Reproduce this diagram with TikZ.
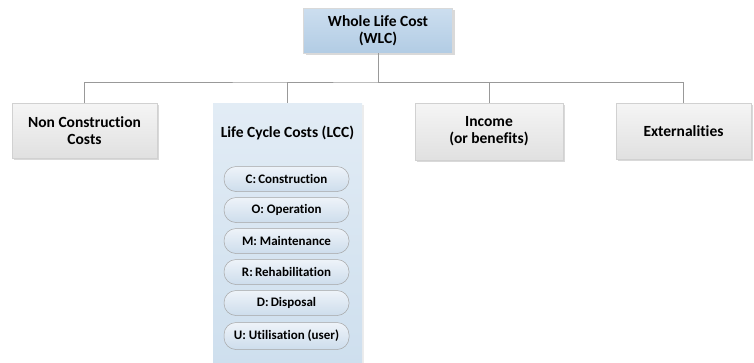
\documentclass[tikz,border=0pt]{standalone}
\usepackage{fontspec}
\setmainfont[Ligatures={NoCommon}]{Carlito}
\usetikzlibrary{shadows}
\begin{document}
\begin{tikzpicture}[x=1pt,y=-1pt,
  link/.style={draw=black!40, line width=0.7pt},
  boxfont/.style={font=\fontsize{15.5}{17}\selectfont\bfseries},
  graybox/.style={draw=black!18, line width=0.5pt, top color=black!4, bottom color=black!12,
     drop shadow={shadow xshift=2pt, shadow yshift=-2pt, fill=black!25, opacity=0.6},
     align=center, boxfont, inner sep=0pt},
  bluebox/.style={draw=black!15, line width=0.5pt,
     top color={rgb,255:red,204;green,222;blue,239}, bottom color={rgb,255:red,178;green,204;blue,228},
     drop shadow={shadow xshift=2pt, shadow yshift=-2pt, fill=black!25, opacity=0.6},
     align=center, boxfont, inner sep=0pt},
  lccbox/.style={draw=none, top color={rgb,255:red,226;green,236;blue,245}, bottom color={rgb,255:red,206;green,223;blue,238},
     drop shadow={shadow xshift=1.5pt, shadow yshift=-1.5pt, fill=black!15, opacity=0.5}, inner sep=0pt},
  pill/.style={draw=black!35, line width=0.5pt, rounded corners=12pt,
     top color={rgb,255:red,238;green,243;blue,249}, bottom color={rgb,255:red,205;green,221;blue,236},
     font=\fontsize{13}{15}\selectfont\bfseries, inner sep=0pt, minimum width=125pt, minimum height=25pt}
]
\useasboundingbox (0,0) rectangle (754,362);

% top node
\node[bluebox, minimum width=149pt, minimum height=45pt] (wlc) at (378,30.5) {Whole Life Cost\\(WLC)};

% second level
\node[graybox, minimum width=145pt, minimum height=55pt] (ncc) at (84.5,130.5) {Non Construction\\Costs};
\node[lccbox, minimum width=149pt, minimum height=262pt] (lcc) at (287.5,234) {};
\node[boxfont] (lcct) at (287.5,133) {Life Cycle Costs (LCC)};
\node[graybox, minimum width=148pt, minimum height=57pt] (inc) at (489,131.5) {Income\\(or benefits)};
\node[graybox, minimum width=135pt, minimum height=56pt] (ext) at (683.5,131) {Externalities};

% connectors
\coordinate (bus) at (378,82);
\draw[link] (wlc.south) -- (bus);
\draw[link] (ncc.north) |- (bus) -| (lcc.north);
\draw[link] (bus) -| (inc.north);
\draw[link] (bus) -| (ext.north);

% cost components
\node[pill] (c) at (286.5,179) {C:\,Construction};
\node[pill] (o) at (286.5,210) {O: Operation};
\node[pill] (m) at (286.5,241) {M: Maintenance};
\node[pill] (r) at (286.5,272) {R:\,Rehabilitation};
\node[pill] (d) at (286.5,303) {D:\,Disposal};
\node[pill, minimum height=27pt] (u) at (286.5,336) {U: Utilisation (user)};
\end{tikzpicture}
\end{document}
